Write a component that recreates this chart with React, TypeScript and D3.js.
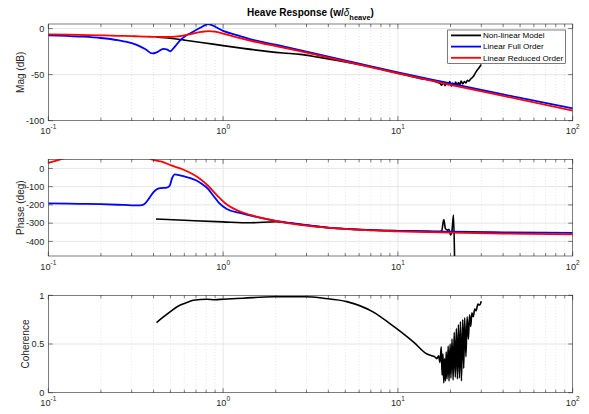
import React, { useEffect, useRef } from "react";
import * as d3 from "d3";

// frequency grid (rad/s) for the linear model magnitudes
const linFreq = [0.1, 0.15, 0.2, 0.25, 0.3, 0.33, 0.36, 0.394, 0.42, 0.455, 0.48, 0.497, 0.53, 0.566, 0.6, 0.65, 0.7, 0.75, 0.822, 0.9, 1.0, 1.2, 1.5, 2, 2.75, 4, 6, 10, 20, 40, 100];
const fullMag = [-7.3, -8.6, -10.2, -12.6, -15.8, -18.8, -22.5, -27, -25.5, -22, -22.8, -24.7, -19.5, -13, -8.8, -5, -1.5, 1.5, 5, 2, -2.5, -7, -12.5, -17.5, -23.5, -30.5, -38, -47.5, -59.5, -71.5, -86.5];
const redMag = [-6.2, -6.8, -7.3, -7.8, -8.2, -8.5, -8.7, -8.9, -9, -9.1, -9.1, -9, -8.7, -8.1, -7.3, -6, -4.7, -3.6, -2.7, -3.3, -5.5, -9.5, -14, -19, -24.5, -31.5, -39, -48.5, -61, -73, -89];

// non-linear model magnitude
const nlMagFreq = [0.413, 0.5, 0.6, 0.75, 1.0, 1.3, 1.78, 2.2, 2.76, 3.5, 4.5, 6, 8, 10, 13, 17.4, 17.8, 18.2, 18.6, 19.0, 19.4, 19.8, 20.2, 20.6, 21.0, 21.4, 21.8, 22.2, 22.6, 23.0, 23.5, 24.0, 24.5, 25.0, 25.5, 26.0, 27.0, 28.0, 29.0, 30.0];
const nlMag = [-9, -10.5, -12.5, -15, -18.5, -21.5, -24.7, -26.5, -28, -31, -34.5, -39, -44, -48.5, -53.5, -59.5, -61.5, -58, -62, -59, -61, -57.5, -62.5, -59, -61.5, -58, -62, -58.5, -61, -57, -60, -57.5, -59, -56, -57, -55, -52, -47, -43, -39];

// phase (deg)
const fullPhaseFreq = [0.1, 0.15, 0.2, 0.25, 0.3, 0.335, 0.355, 0.38, 0.4, 0.416, 0.44, 0.476, 0.495, 0.51, 0.53, 0.56, 0.6, 0.65, 0.7, 0.75, 0.82, 0.88, 0.95, 1.05, 1.25, 1.5, 2, 2.75, 4, 6, 10, 20, 40, 100];
const fullPhase = [-192, -194, -196, -199, -202, -203, -195, -160, -130, -115, -108, -105, -95, -55, -33, -37, -44, -53, -65, -82, -112, -150, -190, -222, -244, -263, -287, -306, -325, -335, -342, -347, -350, -353];
const redPhaseFreq = [0.1, 0.11, 0.12, 0.15, 0.25, 0.35, 0.39, 0.45, 0.5, 0.59, 0.66, 0.74, 0.82, 0.92, 1.05, 1.25, 1.43, 2.02, 2.75, 4.65, 10, 20, 40, 100];
const redPhase = [31, 42, 52, 80, 110, 75, 50, 36, 18, -6, -28, -58, -95, -146, -198, -236, -255, -289, -310, -330, -345, -352, -357, -361];
const nlPhaseFreq = [0.413, 0.6, 1.0, 1.43, 2.0, 2.75, 4, 6, 10, 15, 17.4, 17.8, 18.3, 18.7, 19.2, 19.6, 20.0, 20.4, 20.8, 21.2, 21.5];
const nlPhase = [-277, -284, -293, -298, -292, -307, -325, -335, -342, -345, -346, -343, -280, -330, -338, -333, -365, -340, -256, -600, -900];

// coherence
const nlCohFreq = [0.416, 0.45, 0.497, 0.555, 0.62, 0.675, 0.81, 0.9, 1.0, 1.3, 1.93, 3.0, 3.74, 5.1, 7.2, 9.0, 10.5, 12.3, 14.6, 15.6, 16.2, 16.7, 17.1, 17.4, 17.7, 17.9, 18.1, 18.3, 18.5, 18.7, 18.9, 19.1, 19.4, 19.6, 19.9, 20.1, 20.4, 20.7, 21.0, 21.3, 21.6, 21.9, 22.2, 22.5, 22.8, 23.1, 23.5, 23.8, 24.1, 24.5, 24.9, 25.3, 25.7, 26.1, 26.5, 27.0, 27.5, 28.0, 28.7, 29.3, 30.0];
const nlCoh = [0.72, 0.77, 0.83, 0.89, 0.925, 0.95, 0.96, 0.955, 0.96, 0.97, 0.985, 0.985, 0.97, 0.935, 0.83, 0.71, 0.62, 0.52, 0.40, 0.38, 0.37, 0.35, 0.38, 0.31, 0.47, 0.18, 0.40, 0.10, 0.35, 0.12, 0.42, 0.14, 0.48, 0.12, 0.50, 0.15, 0.55, 0.13, 0.62, 0.16, 0.66, 0.14, 0.70, 0.15, 0.73, 0.12, 0.75, 0.25, 0.77, 0.37, 0.78, 0.55, 0.80, 0.68, 0.82, 0.78, 0.86, 0.84, 0.91, 0.90, 0.94];

const magTicks = [-100, -50, 0];
const phaseTicks = [-400, -300, -200, -100, 0];
const cohTicks = [0, 0.5, 1];
const decades = [0.1, 1, 10, 100];
const decadeExp = ["-1", "0", "1", "2"];
const legendLabels = ["Non-linear Model", "Linear Full Order", "Linear Reduced Order"];
const legendColors = ["#000000", "#0000ff", "#ff0000"];

const FONT = "'Liberation Sans', Arial, Helvetica, sans-serif";
const AX = "#262626";

const App = () => {
  const ref = useRef<SVGSVGElement>(null);

  useEffect(() => {
    const svg = d3.select(ref.current);
    svg.selectAll("*").remove();

    const x = d3.scaleLog().domain([0.1, 100]).range([48.3, 572.7]);
    const minor: number[] = [];
    decades.slice(0, 3).forEach(d => {
      for (let k = 2; k <= 9; k++) minor.push(d * k);
    });

    const drawPanel = (id: string, top: number, bottom: number, yDomain: number[], yTicks: number[],
      label: string, labelX: number, series: { f: number[]; v: number[]; color: string; w: number }[]) => {
      const y = d3.scaleLinear().domain(yDomain).range([bottom, top]);
      const [x0, x1] = x.range();
      const g = svg.append("g");

      g.append("rect").attr("x", x0).attr("y", top).attr("width", x1 - x0).attr("height", bottom - top).attr("fill", "#fff");

      // grid
      g.selectAll(".mg").data(minor).enter().append("line")
        .attr("x1", d => x(d)).attr("x2", d => x(d)).attr("y1", top).attr("y2", bottom)
        .attr("stroke", "#c8c8c8").attr("stroke-width", 0.5).attr("stroke-dasharray", "1,2");
      g.selectAll(".xg").data(decades.slice(1, 3)).enter().append("line")
        .attr("x1", d => x(d)).attr("x2", d => x(d)).attr("y1", top).attr("y2", bottom)
        .attr("stroke", "#dfdfdf").attr("stroke-width", 0.8);
      g.selectAll(".yg").data(yTicks.filter(t => y(t) > top + 1 && y(t) < bottom - 1)).enter().append("line")
        .attr("x1", x0).attr("x2", x1).attr("y1", d => y(d)).attr("y2", d => y(d))
        .attr("stroke", "#dfdfdf").attr("stroke-width", 0.8);

      // data
      svg.append("clipPath").attr("id", id).append("rect")
        .attr("x", x0).attr("y", top).attr("width", x1 - x0).attr("height", bottom - top);
      const dg = g.append("g").attr("clip-path", `url(#${id})`);
      series.forEach(s => {
        const line = d3.line<number>()
          .x((_, i) => x(s.f[i]))
          .y(d => y(d))
          .curve(d3.curveMonotoneX);
        dg.append("path").attr("d", line(s.v)).attr("fill", "none")
          .attr("stroke", s.color).attr("stroke-width", s.w).attr("stroke-linejoin", "round");
      });

      // box and ticks
      g.append("rect").attr("x", x0).attr("y", top).attr("width", x1 - x0).attr("height", bottom - top)
        .attr("fill", "none").attr("stroke", AX).attr("stroke-width", 0.6);
      const tk = g.append("g").attr("stroke", AX).attr("stroke-width", 0.6);
      [...decades, ...minor].forEach(d => {
        const len = decades.includes(d) ? 4.5 : 3;
        tk.append("line").attr("x1", x(d)).attr("x2", x(d)).attr("y1", bottom).attr("y2", bottom - len);
        tk.append("line").attr("x1", x(d)).attr("x2", x(d)).attr("y1", top).attr("y2", top + len);
      });
      yTicks.forEach(t => {
        tk.append("line").attr("x1", x0).attr("x2", x0 + 4.5).attr("y1", y(t)).attr("y2", y(t));
        tk.append("line").attr("x1", x1).attr("x2", x1 - 4.5).attr("y1", y(t)).attr("y2", y(t));
      });

      // tick labels
      yTicks.forEach(t => {
        g.append("text").attr("x", x0 - 4).attr("y", y(t)).attr("dy", "0.35em")
          .attr("text-anchor", "end").attr("font-family", FONT).attr("font-size", 9.2).attr("fill", AX)
          .text(String(t));
      });
      decades.forEach((d, i) => {
        const t = g.append("text").attr("x", x(d)).attr("y", bottom + 13.5)
          .attr("text-anchor", "middle").attr("font-family", FONT).attr("font-size", 9.2).attr("fill", AX);
        t.append("tspan").text("10");
        t.append("tspan").attr("dy", -5).attr("font-size", 6.5).text(decadeExp[i]);
      });

      g.append("text").attr("transform", `translate(${labelX},${(top + bottom) / 2}) rotate(-90)`)
        .attr("text-anchor", "middle").attr("font-family", FONT).attr("font-size", 10).attr("fill", AX)
        .text(label);
      return g;
    };

    const magG = drawPanel("clipMag", 24, 120.7, [-100, 5], magTicks, "Mag (dB)", 24, [
      { f: nlMagFreq, v: nlMag, color: "#000000", w: 1.6 },
      { f: linFreq, v: fullMag, color: "#0000ff", w: 1.8 },
      { f: linFreq, v: redMag, color: "#ff0000", w: 1.8 },
    ]);
    drawPanel("clipPhase", 159.3, 256, [-480, 50], phaseTicks, "Phase (deg)", 24, [
      { f: nlPhaseFreq, v: nlPhase, color: "#000000", w: 1.6 },
      { f: fullPhaseFreq, v: fullPhase, color: "#0000ff", w: 1.8 },
      { f: redPhaseFreq, v: redPhase, color: "#ff0000", w: 1.8 },
    ]);
    drawPanel("clipCoh", 295.3, 392.7, [0, 1], cohTicks, "Coherence", 29, [
      { f: nlCohFreq, v: nlCoh, color: "#000000", w: 1.6 },
    ]);

    // legend
    const lg = magG.append("g");
    lg.append("rect").attr("x", 447.7).attr("y", 30).attr("width", 117.6).attr("height", 33.3)
      .attr("fill", "#fff").attr("stroke", AX).attr("stroke-width", 0.6);
    legendLabels.forEach((name, i) => {
      const ly = 35.4 + i * 11.2;
      lg.append("line").attr("x1", 451).attr("x2", 481).attr("y1", ly).attr("y2", ly)
        .attr("stroke", legendColors[i]).attr("stroke-width", 1.8);
      lg.append("text").attr("x", 483).attr("y", ly).attr("dy", "0.35em")
        .attr("font-family", FONT).attr("font-size", 8.1).attr("fill", "#000").text(name);
    });

    // title
    const title = svg.append("text").attr("x", 310.5).attr("y", 15.5).attr("text-anchor", "middle")
      .attr("font-family", FONT).attr("font-size", 10).attr("font-weight", "bold").attr("fill", "#000");
    title.append("tspan").text("Heave Response (w/");
    title.append("tspan").attr("font-style", "italic").attr("font-weight", "normal").text("δ");
    title.append("tspan").attr("dy", 4).attr("font-size", 7.5).text("heave");
    title.append("tspan").attr("dy", -4).text(")");
  }, []);

  return (
    <svg ref={ref} width={589} height={414} style={{ position: "absolute", left: 0, top: 0, background: "#fff" }} />
  );
};

export default App;
